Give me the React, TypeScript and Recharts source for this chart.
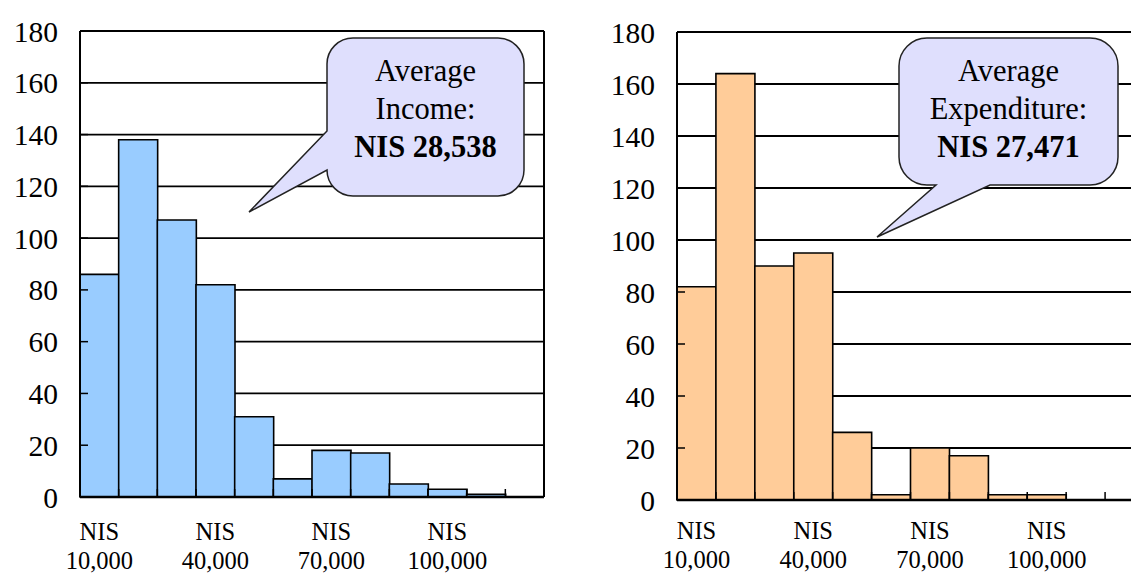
import { BarChart, Bar, XAxis, YAxis, CartesianGrid } from "recharts";

// Household count per monthly amount bin (NIS)
const bins = [
  "10,000", "20,000", "30,000", "40,000", "50,000", "60,000",
  "70,000", "80,000", "90,000", "100,000", "110,000", "120,000",
];
const incomeCounts = [86, 138, 107, 82, 31, 7, 18, 17, 5, 3, 1, 0];
const expenditureCounts = [82, 164, 90, 95, 26, 2, 20, 17, 2, 2, 0, 0];
const yTicks = [0, 20, 40, 60, 80, 100, 120, 140, 160, 180];

const incomeNote = ["Average", "Income:", "NIS 28,538"];
const expenditureNote = ["Average", "Expenditure:", "NIS 27,471"];

const SERIF = '"Liberation Serif", "Times New Roman", serif';
const Y_MARGIN = 22;

function YTick({ x, y, payload }: any) {
  const axisX = x + Y_MARGIN;
  return (
    <g>
      <line x1={axisX} x2={axisX + 8} y1={y} y2={y} stroke="#000" strokeWidth={1.5} />
      <text x={x} y={y + 10.5} textAnchor="end" fontSize={29.5} fontFamily={SERIF} fill="#000">
        {payload.value}
      </text>
    </g>
  );
}

// two-line bin label ("NIS" over the amount) on every third bin,
// plus a short inward tick on each bin boundary
function makeXTick(bandWidth: number, labelGap: number) {
  return function XTick({ x, y, payload, index }: any) {
    const edge = x + bandWidth / 2;
    return (
      <g>
        <line x1={edge} x2={edge} y1={y - 8} y2={y} stroke="#000" strokeWidth={1.5} />
        {index % 3 === 0 && (
          <g fontSize={24.5} fontFamily={SERIF} fill="#000">
            <text x={x} y={y + labelGap - 29} textAnchor="middle">NIS</text>
            <text x={x} y={y + labelGap} textAnchor="middle">{payload.value}</text>
          </g>
        )}
      </g>
    );
  };
}

interface HistProps {
  counts: number[];
  fill: string;
  left: number;
  top: number;
  axisWidth: number;
  axisHeight: number;
  labelGap: number;
}

function Histogram({ counts, fill, left, top, axisWidth, axisHeight, labelGap }: HistProps) {
  const width = 570;
  const height = 575;
  const right = 25;
  const data = bins.map((bin, i) => ({ bin, count: counts[i] }));
  const bandWidth = (width - axisWidth - right - 1) / bins.length;
  return (
    <div style={{ position: "absolute", left, top: 0 }}>
      <BarChart
        width={width}
        height={height}
        data={data}
        margin={{ top, right, bottom: 0, left: 0 }}
        barCategoryGap={0}
        barGap={0}
      >
        <CartesianGrid vertical={false} stroke="#000" strokeWidth={1.8} />
        <Bar dataKey="count" fill={fill} stroke="#000" strokeWidth={1.6} isAnimationActive={false} />
        <XAxis
          dataKey="bin"
          height={axisHeight}
          interval={0}
          tickLine={false}
          tickSize={0}
          tickMargin={0}
          axisLine={{ stroke: "#000", strokeWidth: 2.5 }}
          tick={makeXTick(bandWidth, labelGap)}
        />
        <YAxis
          width={axisWidth}
          domain={[0, 180]}
          ticks={yTicks}
          interval={0}
          tickLine={false}
          tickSize={0}
          tickMargin={Y_MARGIN}
          axisLine={{ stroke: "#000", strokeWidth: 2 }}
          tick={<YTick />}
        />
        <YAxis
          yAxisId="border"
          orientation="right"
          width={1}
          domain={[0, 180]}
          tick={false}
          tickLine={false}
          axisLine={{ stroke: "#000", strokeWidth: 2 }}
        />
      </BarChart>
    </div>
  );
}

function bubbleLeftPointer(x0: number, y0: number, x1: number, y1: number, r: number, pTop: number, pBot: number, tip: [number, number]) {
  return [
    `M${x0 + r},${y0}`,
    `L${x1 - r},${y0}`,
    `A${r},${r} 0 0 1 ${x1},${y0 + r}`,
    `L${x1},${y1 - r}`,
    `A${r},${r} 0 0 1 ${x1 - r},${y1}`,
    `L${x0 + r},${y1}`,
    `A${r},${r} 0 0 1 ${x0},${y1 - r}`,
    `L${x0},${pBot}`,
    `L${tip[0]},${tip[1]}`,
    `L${x0},${pTop}`,
    `L${x0},${y0 + r}`,
    `A${r},${r} 0 0 1 ${x0 + r},${y0}`,
    "Z",
  ].join(" ");
}

function bubbleBottomPointer(x0: number, y0: number, x1: number, y1: number, r: number, pLeft: number, pRight: number, tip: [number, number]) {
  return [
    `M${x0 + r},${y0}`,
    `L${x1 - r},${y0}`,
    `A${r},${r} 0 0 1 ${x1},${y0 + r}`,
    `L${x1},${y1 - r}`,
    `A${r},${r} 0 0 1 ${x1 - r},${y1}`,
    `L${pRight},${y1}`,
    `L${tip[0]},${tip[1]}`,
    `L${pLeft},${y1}`,
    `L${x0 + r},${y1}`,
    `A${r},${r} 0 0 1 ${x0},${y1 - r}`,
    `L${x0},${y0 + r}`,
    `A${r},${r} 0 0 1 ${x0 + r},${y0}`,
    "Z",
  ].join(" ");
}

function NoteText({ cx, lines }: { cx: number; lines: string[] }) {
  const baselines = [81, 119, 157];
  return (
    <text textAnchor="middle" fontSize={30.5} fontFamily={SERIF} fill="#000">
      {lines.map((line, i) => (
        <tspan key={i} x={cx} y={baselines[i]} fontWeight={i === 2 ? "bold" : "normal"}>
          {line}
        </tspan>
      ))}
    </text>
  );
}

export default function App() {
  return (
    <div
      style={{
        position: "fixed",
        left: 0,
        top: 0,
        width: 1131,
        height: 575,
        overflow: "hidden",
        background: "#fff",
      }}
    >
      <Histogram counts={incomeCounts} fill="#99CCFF" left={0} top={31} axisWidth={80} axisHeight={78} labelGap={72} />
      <Histogram counts={expenditureCounts} fill="#FFCC99" left={600} top={32} axisWidth={77} axisHeight={75} labelGap={68} />
      <svg
        width={1131}
        height={575}
        style={{ position: "absolute", left: 0, top: 0, pointerEvents: "none" }}
      >
        <path
          d={bubbleLeftPointer(327, 38, 524, 196, 26, 131, 170, [249, 212])}
          fill="#DFDFFD"
          stroke="#222"
          strokeWidth={1.5}
        />
        <NoteText cx={425.5} lines={incomeNote} />
        <path
          d={bubbleBottomPointer(899, 38, 1118, 185, 28, 936, 990, [877, 237])}
          fill="#DFDFFD"
          stroke="#222"
          strokeWidth={1.5}
        />
        <NoteText cx={1008.5} lines={expenditureNote} />
      </svg>
    </div>
  );
}
